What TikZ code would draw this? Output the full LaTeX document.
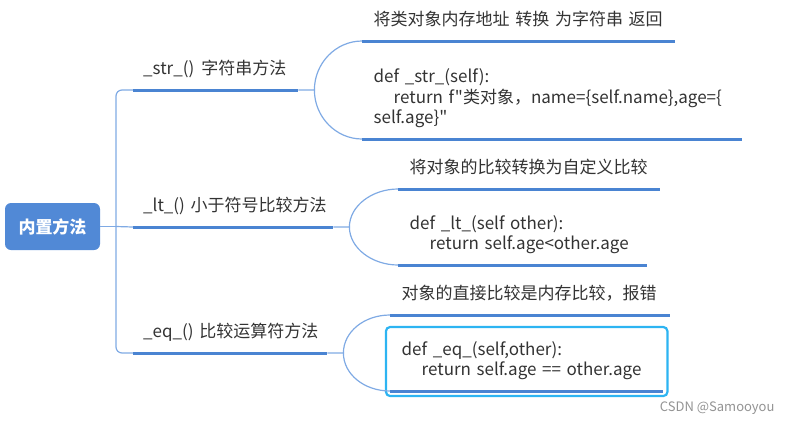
\documentclass[tikz,border=0pt]{standalone}
\usepackage{fontspec}
\setmainfont{Noto Sans CJK SC}[Ligatures=TeXOff]
\usepackage{xcolor}
\usetikzlibrary{calc,fit}

\definecolor{mapblue}{HTML}{4A84D2}
\definecolor{linkblue}{HTML}{7FAAE4}
\definecolor{rootblue}{HTML}{5189D6}
\definecolor{selcyan}{HTML}{2DB4F2}
\definecolor{inkgray}{HTML}{333333}

\begin{document}
\begin{tikzpicture}[
  x=1pt, y=-1pt,
  font=\fontsize{17}{20.5}\selectfont, text=inkgray,
  root/.style={fill=rootblue, rounded corners=6pt, minimum width=95pt, minimum height=47pt, text=white, font=\fontsize{17}{20}\selectfont\bfseries},
  topic/.style={anchor=south west, align=left, inner xsep=10pt, inner ysep=11pt, text depth=4pt},
  leaf/.style={anchor=south west, align=left, inner xsep=11.5pt},
  note/.style={leaf, inner ysep=11pt, text depth=4pt},
  code/.style={leaf, inner ysep=9pt},
  uline/.style={draw=mapblue, line width=3pt},
  link/.style={draw=linkblue, line width=1.2pt},
  sel/.style={draw=selcyan, line width=2.2pt, rounded corners=4pt, inner xsep=4pt, inner ysep=5pt}
]
  \useasboundingbox (0,0) rectangle (793,424);

  \node[root] (root) at (52.5,226.5) {内置方法};
  \coordinate (trunk) at (116,226.5);

  % main branches
  \node[topic, text width=145pt] (str) at (133,90) {\_str\_()~\kern1.5pt字符串方法};
  \node[topic, text width=180pt] (lt) at (133,227) {\_lt\_()~小于符号比较方法};
  \node[topic, text width=174pt] (eq) at (133,353) {\_eq\_()~比较运算符方法};

  % leaves
  \node[note, text width=290pt] (strnote) at (362,41) {将类对象内存地址~转换~为字符串~返回};
  \node[code, text width=357pt] (strcode) at (362,139) {def~\_str\_(self):\\\hspace*{20pt}return~f"类对象，name=\{self.name\},age=\{\\self.age\}"\strut};
  \node[note, text width=239pt] (ltnote) at (398,189) {将对象的比较转换为自定义比较};
  \node[code, text width=226pt] (ltcode) at (398,265) {def~\_lt\_(self~other):\\\hspace*{20pt}return~self.age<other.age\strut};
  \node[note, text width=257pt] (eqnote) at (390,315) {对象的直接比较是内存比较，报错};
  \node[code, text width=250pt] (eqcode) at (390,391) {def~\_eq\_(self,other):\\\hspace*{20pt}return~self.age~==~other.age\strut};
  \node[sel, fit=(eqcode)] (eqsel) {};

  \node[font=\fontsize{13}{15}\selectfont, text=gray!85, anchor=east] (mark) at (778,408) {CSDN @Samooyou};

  \draw[link] (root.east) -- (trunk);
  \draw[link, rounded corners=6pt] (trunk) |- (str.south west);
  \draw[link] (trunk) -- (lt.south west);
  \draw[link, rounded corners=6pt] (trunk) |- (eq.south west);

  \foreach \t/\h in {str/27,lt/21,eq/21} {
    \coordinate (\t fork) at ($(\t.south east)+(16,0)$);
    \draw[link] (\t.south east) -- (\t fork)
      .. controls +(0,-\h) and +(-26,0) .. (\t note.south west);
    \draw[link] (\t fork) .. controls +(0,\h) and +(-26,0) .. (\t code.south west);
  }

  \foreach \n in {str,lt,eq,strnote,strcode,ltnote,ltcode,eqnote,eqcode}
    \draw[uline] (\n.south west) -- (\n.south east);
\end{tikzpicture}
\end{document}
